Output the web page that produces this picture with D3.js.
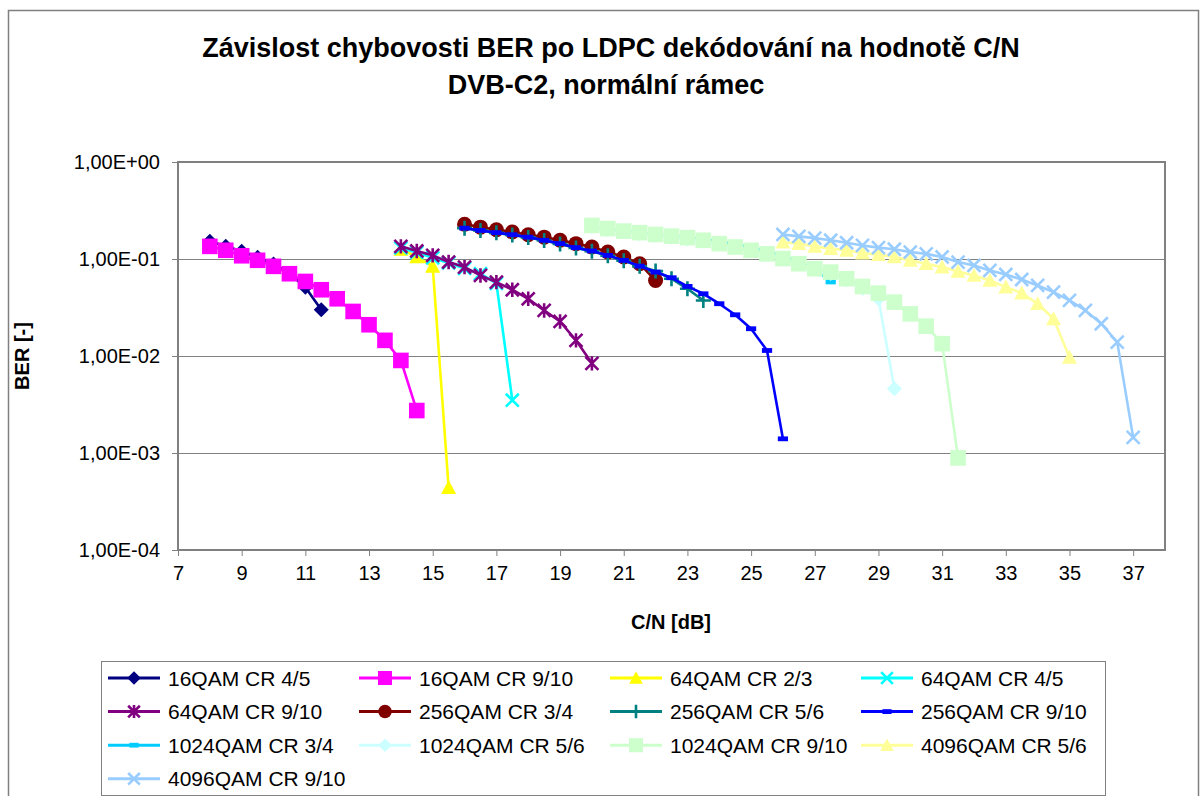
<!DOCTYPE html>
<html>
<head>
<meta charset="utf-8">
<script src="https://cdn.jsdelivr.net/npm/d3@7"></script>
<style>
  body { margin: 0; background: #fff; }
  svg { display: block; font-family: "Liberation Sans", Arial, sans-serif; }
</style>
</head>
<body>
<div id="chart"></div>
<script>
// ---- data (C/N in dB, BER) ----
const cn16_45 = [8, 8.5, 9, 9.5, 10, 10.5, 11, 11.5];
const ber16_45 = [0.152, 0.135, 0.12, 0.104, 0.089, 0.071, 0.051, 0.030];

const cn16_910 = [8, 8.5, 9, 9.5, 10, 10.5, 11, 11.5, 12, 12.5, 13, 13.5, 14, 14.5];
const ber16_910 = [0.135, 0.123, 0.108, 0.097, 0.084, 0.0705, 0.0587, 0.0482, 0.0389, 0.0288, 0.021, 0.0145, 0.009, 0.00274];

const cn64_23 = [14, 14.5, 15, 15.5];
const ber64_23 = [0.126, 0.105, 0.084, 0.00044];

const cn64_45 = [14, 14.5, 15, 15.5, 16, 16.5, 17, 17.5];
const ber64_45 = [0.13, 0.117, 0.103, 0.091, 0.08, 0.0705, 0.056, 0.0035];

const cn64_910 = [14, 14.5, 15, 15.5, 16, 16.5, 17, 17.5, 18, 18.5, 19, 19.5, 20];
const ber64_910 = [0.135, 0.121, 0.109, 0.093, 0.0825, 0.0677, 0.0578, 0.0482, 0.0389, 0.0295, 0.0227, 0.0145, 0.0084];

const cn256_34 = [16, 16.5, 17, 17.5, 18, 18.5, 19, 19.5, 20, 20.5, 21, 21.5, 22];
const ber256_34 = [0.228, 0.213, 0.2, 0.19, 0.178, 0.168, 0.156, 0.144, 0.133, 0.118, 0.105, 0.0894, 0.06];

const cn256_56 = [16, 16.5, 17, 17.5, 18, 18.5, 19, 19.5, 20, 20.5, 21, 21.5, 22, 22.5, 23, 23.5];
const ber256_56 = [0.208, 0.197, 0.186, 0.177, 0.167, 0.155, 0.143, 0.13, 0.12, 0.108, 0.096, 0.084, 0.075, 0.0626, 0.0493, 0.0374];

const cn256_910 = [16, 16.5, 17, 17.5, 18, 18.5, 19, 19.5, 20, 20.5, 21, 21.5, 22, 22.5, 23, 23.5, 24, 24.5, 25, 25.5, 26];
const ber256_910 = [0.208, 0.197, 0.187, 0.178, 0.168, 0.156, 0.144, 0.131, 0.121, 0.109, 0.0968, 0.0845, 0.0733, 0.0641, 0.0522, 0.0438, 0.0346, 0.0266, 0.0191, 0.0114, 0.0014];

const cn1024_34 = [20, 20.5, 21, 21.5, 22, 22.5, 23, 23.5, 24, 24.5, 25, 25.5, 26, 26.5, 27, 27.5];
const ber1024_34 = [0.215, 0.205, 0.195, 0.188, 0.18, 0.173, 0.167, 0.16, 0.152, 0.143, 0.132, 0.12, 0.107, 0.094, 0.079, 0.058];

const cn1024_56 = [20, 20.5, 21, 21.5, 22, 22.5, 23, 23.5, 24, 24.5, 25, 25.5, 26, 26.5, 27, 27.5, 28, 28.5, 29, 29.5];
const ber1024_56 = [0.215, 0.2, 0.19, 0.182, 0.175, 0.168, 0.16, 0.152, 0.142, 0.132, 0.122, 0.112, 0.1, 0.09, 0.08, 0.071, 0.061, 0.05, 0.039, 0.0046];

const cn1024_910 = [20, 20.5, 21, 21.5, 22, 22.5, 23, 23.5, 24, 24.5, 25, 25.5, 26, 26.5, 27, 27.5, 28, 28.5, 29, 29.5, 30, 30.5, 31, 31.5];
const ber1024_910 = [0.222, 0.206, 0.194, 0.187, 0.179, 0.172, 0.166, 0.156, 0.144, 0.133, 0.123, 0.113, 0.101, 0.0894, 0.0794, 0.0733, 0.0626, 0.0521, 0.0445, 0.0359, 0.0272, 0.0203, 0.0134, 0.00089];

const cn4096_56 = [26, 26.5, 27, 27.5, 28, 28.5, 29, 29.5, 30, 30.5, 31, 31.5, 32, 32.5, 33, 33.5, 34, 34.5, 35];
const ber4096_56 = [0.149, 0.144, 0.135, 0.128, 0.123, 0.115, 0.111, 0.105, 0.0968, 0.0894, 0.0825, 0.0745, 0.0677, 0.0601, 0.0513, 0.0445, 0.0346, 0.0242, 0.0097];

const cn4096_910 = [26, 26.5, 27, 27.5, 28, 28.5, 29, 29.5, 30, 30.5, 31, 31.5, 32, 32.5, 33, 33.5, 34, 34.5, 35, 35.5, 36, 36.5, 37];
const ber4096_910 = [0.179, 0.171, 0.164, 0.156, 0.147, 0.138, 0.131, 0.126, 0.118, 0.113, 0.105, 0.0929, 0.0859, 0.0763, 0.0693, 0.0615, 0.0534, 0.0455, 0.0374, 0.0295, 0.0215, 0.0139, 0.00145];

const seriesNames = ["16QAM CR 4/5", "16QAM CR 9/10", "64QAM CR 2/3", "64QAM CR 4/5",
    "64QAM CR 9/10", "256QAM CR 3/4", "256QAM CR 5/6", "256QAM CR 9/10",
    "1024QAM CR 3/4", "1024QAM CR 5/6", "1024QAM CR 9/10", "4096QAM CR 5/6",
    "4096QAM CR 9/10"];

const xTicks = [7, 9, 11, 13, 15, 17, 19, 21, 23, 25, 27, 29, 31, 33, 35, 37];
const yTicks = [1, 0.1, 0.01, 0.001, 0.0001];
const yTickLabels = ["1,00E+00", "1,00E-01", "1,00E-02", "1,00E-03", "1,00E-04"];

// ---- styles per series ----
const colors = ["#000080", "#ff00ff", "#ffff00", "#00ffff", "#800080", "#800000",
    "#008080", "#0000ff", "#00ccff", "#ccffff", "#ccffcc", "#ffff99", "#99ccff"];
const markers = ["diamond", "square", "triangle", "x", "star", "circle",
    "plus", "dash", "dash", "diamond", "square", "triangle", "x"];

const seriesData = [
    [cn16_45, ber16_45], [cn16_910, ber16_910], [cn64_23, ber64_23], [cn64_45, ber64_45],
    [cn64_910, ber64_910], [cn256_34, ber256_34], [cn256_56, ber256_56], [cn256_910, ber256_910],
    [cn1024_34, ber1024_34], [cn1024_56, ber1024_56], [cn1024_910, ber1024_910],
    [cn4096_56, ber4096_56], [cn4096_910, ber4096_910]
].map(([xs, ys], i) => ({
    name: seriesNames[i],
    color: colors[i],
    marker: markers[i],
    values: xs.map((c, j) => ({ cn: c, ber: ys[j] }))
}));

// ---- layout ----
const W = 1203, H = 796;
const plot = { left: 178, right: 1165, top: 162, bottom: 550 };

const svg = d3.select("#chart").append("svg")
    .attr("width", W)
    .attr("height", H);

// outer chart frame
svg.append("rect")
    .attr("x", 8.5).attr("y", 10.5)
    .attr("width", 1190).attr("height", 820)
    .attr("fill", "#fff")
    .attr("stroke", "#808080")
    .attr("stroke-width", 1.5);

const x = d3.scaleLinear().domain([7, 38]).range([plot.left, plot.right]);
const y = d3.scaleLog().domain([1e-4, 1]).range([plot.bottom, plot.top]);

// title
const title = svg.append("text")
    .attr("text-anchor", "middle")
    .style("font-weight", "bold")
    .style("font-size", "27px");
title.append("tspan").attr("x", 611).attr("y", 57)
    .text("Závislost chybovosti BER po LDPC dekódování na hodnotě C/N");
title.append("tspan").attr("x", 606).attr("y", 94)
    .text("DVB-C2, normální rámec");

// gridlines
svg.append("g")
    .selectAll("line")
    .data(yTicks.slice(1, -1))
    .join("line")
    .attr("x1", plot.left).attr("x2", plot.right)
    .attr("y1", d => Math.round(y(d)) + 0.5).attr("y2", d => Math.round(y(d)) + 0.5)
    .attr("stroke", "#808080")
    .attr("stroke-width", 1);

// axes
const xAxis = d3.axisBottom(x)
    .tickValues(xTicks)
    .tickSize(6)
    .tickSizeOuter(0)
    .tickPadding(10);
const xAxisG = svg.append("g")
    .attr("transform", `translate(0, ${plot.bottom})`)
    .call(xAxis);

const yAxis = d3.axisLeft(y)
    .tickValues(yTicks)
    .tickFormat((d, i) => yTickLabels[i])
    .tickSize(6)
    .tickSizeOuter(0)
    .tickPadding(12);
const yAxisG = svg.append("g")
    .attr("transform", `translate(${plot.left}, 0)`)
    .call(yAxis);

[xAxisG, yAxisG].forEach(g => {
    g.select(".domain").remove();
    g.selectAll("line").attr("stroke", "#808080");
    g.selectAll("text")
        .attr("fill", "#000")
        .style("font-family", "Liberation Sans, Arial, sans-serif")
        .style("font-size", "20px");
});

// plot border
svg.append("rect")
    .attr("x", plot.left).attr("y", plot.top)
    .attr("width", plot.right - plot.left)
    .attr("height", plot.bottom - plot.top)
    .attr("fill", "none")
    .attr("stroke", "#808080")
    .attr("stroke-width", 2);

// axis titles
svg.append("text")
    .attr("x", 671).attr("y", 629)
    .attr("text-anchor", "middle")
    .style("font-weight", "bold")
    .style("font-size", "20px")
    .text("C/N [dB]");

svg.append("text")
    .attr("transform", "translate(29, 356) rotate(-90)")
    .attr("text-anchor", "middle")
    .style("font-weight", "bold")
    .style("font-size", "20px")
    .text("BER [-]");

// marker drawing
function drawMarker(g, type, color, s) {
    if (type === "diamond") {
        g.append("path").attr("d", `M0,${-s}L${s},0L0,${s}L${-s},0Z`).attr("fill", color);
    } else if (type === "square") {
        g.append("rect").attr("x", -s).attr("y", -s).attr("width", 2 * s).attr("height", 2 * s).attr("fill", color);
    } else if (type === "triangle") {
        g.append("path").attr("d", `M0,${-s}L${s},${s * 0.85}L${-s},${s * 0.85}Z`).attr("fill", color);
    } else if (type === "circle") {
        g.append("circle").attr("r", s).attr("fill", color);
    } else if (type === "dash") {
        g.append("rect").attr("x", -s * 0.6).attr("y", -2.4).attr("width", s * 1.2).attr("height", 4.8).attr("fill", color);
    } else {
        let d = "";
        const k = s * 0.9;
        if (type === "x" || type === "star") d += `M${-k},${-k}L${k},${k}M${-k},${k}L${k},${-k}`;
        if (type === "star") d += `M0,${-s}L0,${s}`;
        if (type === "plus") d += `M${-s},0L${s},0M0,${-s}L0,${s}`;
        g.append("path").attr("d", d).attr("fill", "none")
            .attr("stroke", color).attr("stroke-width", 2.6);
    }
}

const markerSize = { diamond: 7.5, square: 7.8, triangle: 7.5, circle: 7.5, dash: 8.5, x: 7.2, star: 7.2, plus: 7.5 };

// series
const line = d3.line()
    .x(d => x(d.cn))
    .y(d => y(d.ber));

const seriesG = svg.append("g").attr("class", "series");
seriesData.forEach(s => {
    const g = seriesG.append("g");
    g.append("path")
        .datum(s.values)
        .attr("d", line)
        .attr("fill", "none")
        .attr("stroke", s.color)
        .attr("stroke-width", 2.6)
        .attr("stroke-linejoin", "round");
    g.selectAll("g.pt")
        .data(s.values)
        .join("g")
        .attr("class", "pt")
        .attr("transform", d => `translate(${x(d.cn)}, ${y(d.ber)})`)
        .each(function() {
            drawMarker(d3.select(this), s.marker, s.color, markerSize[s.marker]);
        });
});

// legend
const legend = svg.append("g");
legend.append("rect")
    .attr("x", 101.5).attr("y", 661.5)
    .attr("width", 1004).attr("height", 134)
    .attr("fill", "#fff")
    .attr("stroke", "#808080")
    .attr("stroke-width", 1);

seriesData.forEach((s, i) => {
    const col = i % 4, row = Math.floor(i / 4);
    const lx = 108 + col * 251, ly = 678 + row * 33.6;
    const item = legend.append("g").attr("transform", `translate(${lx}, ${ly})`);
    item.append("line")
        .attr("x1", 0).attr("x2", 52)
        .attr("stroke", s.color)
        .attr("stroke-width", 3);
    const mg = item.append("g").attr("transform", "translate(26, 0)");
    drawMarker(mg, s.marker, s.color, markerSize[s.marker] * 0.9);
    item.append("text")
        .attr("x", 60).attr("y", 7.5)
        .style("font-size", "21px")
        .text(s.name);
});
</script>
</body>
</html>
